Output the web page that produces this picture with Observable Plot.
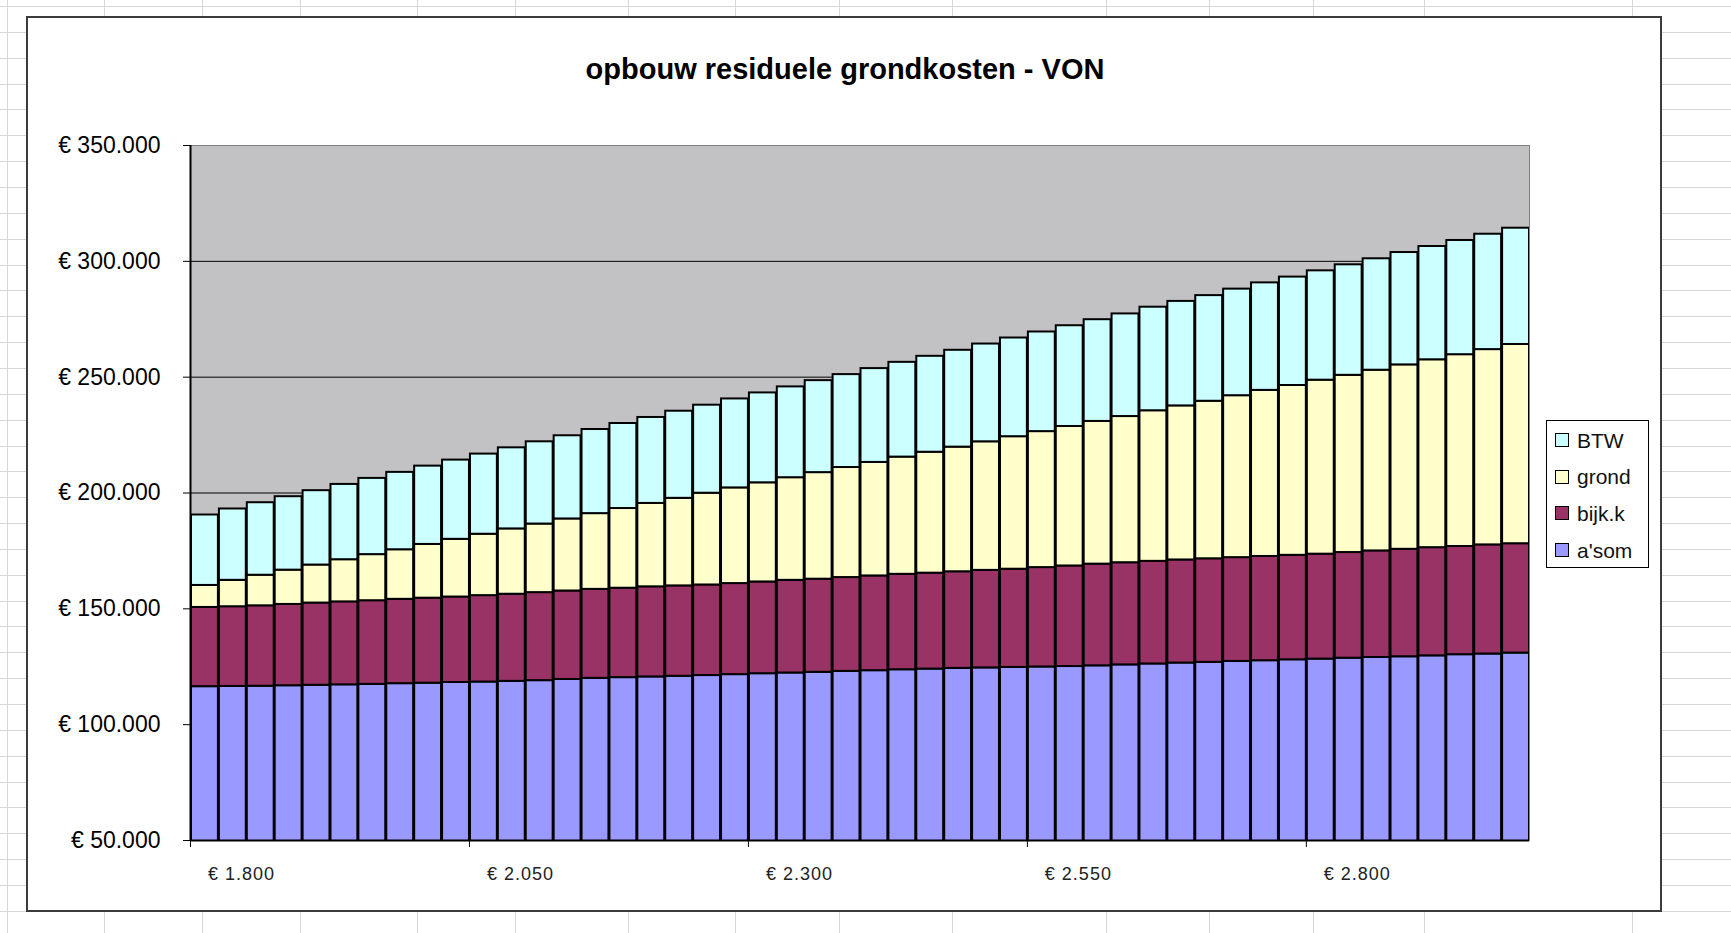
<!DOCTYPE html>
<html>
<head>
<meta charset="utf-8">
<script src="https://cdn.jsdelivr.net/npm/d3@7"></script>
<script src="https://cdn.jsdelivr.net/npm/@observablehq/plot@0.6"></script>
<style>
html, body { margin: 0; padding: 0; background: #fff; }
#page { position: relative; width: 1731px; height: 933px; overflow: hidden; font-family: "Liberation Sans", Arial, sans-serif; }
.hline { position: absolute; left: 0; width: 1731px; height: 1px; background: #d6d6d6; }
.vline { position: absolute; top: 0; height: 933px; width: 1px; background: #d6d6d6; }
#chartbox { position: absolute; left: 26px; top: 16px; width: 1636px; height: 896px; box-sizing: border-box; border: 2px solid #3c3c3c; background: #fff; }
#title { position: absolute; left: 345px; width: 1000px; top: 54px; line-height: 30px; font-size: 29px; font-weight: bold; text-align: center; color: #000; white-space: nowrap; }
#plot { position: absolute; left: 0; top: 100px; }
#legend { position: absolute; left: 1546px; top: 420px; width: 103px; height: 148px; box-sizing: border-box; border: 1px solid #000; background: #fff; padding-top: 1px; }
.item { display: flex; align-items: center; height: 36.6px; font-size: 21px; color: #111; line-height: 1; }
.sw { width: 14px; height: 14px; border: 1px solid #000; margin-left: 8px; margin-right: 8px; box-sizing: border-box; flex: none; }
#plot g[aria-label="x-axis tick label"] text { letter-spacing: 1px; }
</style>
</head>
<body>
<div id="page">
  <div id="sheet"></div>
  <div id="chartbox"></div>
  <div id="title">opbouw residuele grondkosten - VON</div>
  <div id="plot"></div>
  <div id="legend"></div>
</div>
<script>
// ---- data ----
const prices = [1800,1825,1850,1875,1900,1925,1950,1975,2000,2025,2050,2075,2100,2125,2150,2175,2200,2225,2250,2275,2300,2325,2350,2375,2400,2425,2450,2475,2500,2525,2550,2575,2600,2625,2650,2675,2700,2725,2750,2775,2800,2825,2850,2875,2900,2925,2950,2975];

const seriesNames = ["a'som", "bijk.k", "grond", "BTW"];
const seriesColors = ["#9999FF", "#993366", "#FFFFCC", "#CCFFFF"];

const asom = [116400,116500,116600,116800,117000,117200,117400,117700,117900,118200,118400,118700,119000,119500,120000,120300,120600,120900,121200,121600,122000,122300,122600,123000,123300,123700,124000,124300,124500,124700,124900,125100,125400,125800,126200,126600,126900,127300,127600,128000,128300,128700,129000,129300,129700,130200,130500,130900];
const bijk = [34200,34400,34700,35100,35500,35800,36100,36400,36700,36900,37300,37600,38000,38200,38400,38600,38900,39000,39100,39300,39600,40000,40200,40500,40900,41200,41400,41700,42100,42400,42900,43400,43900,44100,44300,44500,44700,44800,45000,45100,45300,45600,46000,46400,46700,46700,47100,47200];
const grond = [9500,11400,13200,14800,16400,18200,19900,21400,23200,24900,26500,28200,29600,31100,32700,34400,36000,37800,39600,41300,42800,44300,46000,47500,49000,50600,52200,53800,55500,57200,58700,60200,61600,63100,65000,66500,68000,69900,71700,73300,75100,76500,78000,79600,81100,82800,84300,86000];
const btw = [30400,30800,31300,31700,32100,32500,32900,33400,33800,34200,34600,35000,35500,35900,36300,36700,37100,37600,38000,38400,38800,39200,39700,40100,40500,40900,41400,41800,42200,42600,43000,43500,43900,44300,44700,45100,45600,46000,46400,46800,47200,47700,48100,48500,48900,49300,49800,50200];

const xTickValues = [1800, 2050, 2300, 2550, 2800];
const xTickLabels = ["€ 1.800", "€ 2.050", "€ 2.300", "€ 2.550", "€ 2.800"];
const yTickValues = [50000, 100000, 150000, 200000, 250000, 300000, 350000];
const yTickLabels = ["€ 50.000", "€ 100.000", "€ 150.000", "€ 200.000", "€ 250.000", "€ 300.000", "€ 350.000"];

// ---- spreadsheet background (decoration) ----
const sheet = document.getElementById("sheet");
const sheetCols = [7, 104, 202, 300, 417, 515, 628, 735, 839, 952, 1106, 1209, 1313, 1424, 1632];
for (let k = 0; k < 37; k++) {
  const d = document.createElement("div");
  d.className = "hline";
  d.style.top = (6 + 25.85 * k).toFixed(1) + "px";
  sheet.appendChild(d);
}
for (const c of sheetCols) {
  const d = document.createElement("div");
  d.className = "vline";
  d.style.left = c + "px";
  sheet.appendChild(d);
}

// ---- chart ----
const seriesValues = [asom, bijk, grond, btw];
const rows = prices.flatMap((p, i) => seriesNames.map((s, k) => ({price: p, series: s, value: seriesValues[k][i]})));
const xLabelMap = new Map(xTickValues.map((v, i) => [v, xTickLabels[i]]));
const yLabelMap = new Map(yTickValues.map((v, i) => [v, yTickLabels[i]]));
const gridValues = yTickValues.slice(1, -1);

const chart = Plot.plot({
  width: 1540,
  height: 833,
  marginLeft: 190,
  marginRight: 11,
  marginTop: 45,
  marginBottom: 93,
  style: {fontFamily: '"Liberation Sans", Arial, sans-serif', background: "transparent", color: "#000", overflow: "visible"},
  x: {type: "linear", domain: [prices[0], 3000], label: null},
  y: {domain: [yTickValues[0], yTickValues[yTickValues.length - 1]], label: null},
  color: {domain: seriesNames, range: seriesColors},
  marks: [
    Plot.frame({fill: "#c2c2c4", stroke: "none"}),
    Plot.ruleY(gridValues, {stroke: "#000", strokeWidth: 1}),
    Plot.rectY(rows, {x: "price", interval: 25, y: "value", fill: "series", stroke: "#000", strokeWidth: 2, clip: true}),
    Plot.frame({stroke: "#808080", strokeWidth: 1}),
    Plot.ruleY([yTickValues[0]], {stroke: "#000", strokeWidth: 2}),
    Plot.ruleX([prices[0]], {stroke: "#000", strokeWidth: 2}),
    Plot.axisY({ticks: yTickValues, tickFormat: d => yLabelMap.get(d), tickSize: 7, tickPadding: 23, fontSize: 23, label: null, stroke: "#000"}),
    Plot.axisX({ticks: xTickValues, tickSize: 7, fill: "none", label: null, stroke: "#000"}),
    Plot.axisX({ticks: xTickValues, tickFormat: d => xLabelMap.get(d), tickSize: 0, tickPadding: 27, dx: 51, fontSize: 18, fill: "#222", label: null})
  ]
});
document.getElementById("plot").appendChild(chart);

// ---- legend ----
const legend = document.getElementById("legend");
for (let k = seriesNames.length - 1; k >= 0; k--) {
  const item = document.createElement("div");
  item.className = "item";
  const sw = document.createElement("span");
  sw.className = "sw";
  sw.style.background = seriesColors[k];
  const label = document.createElement("span");
  label.textContent = seriesNames[k];
  item.appendChild(sw);
  item.appendChild(label);
  legend.appendChild(item);
}
</script>
</body>
</html>
